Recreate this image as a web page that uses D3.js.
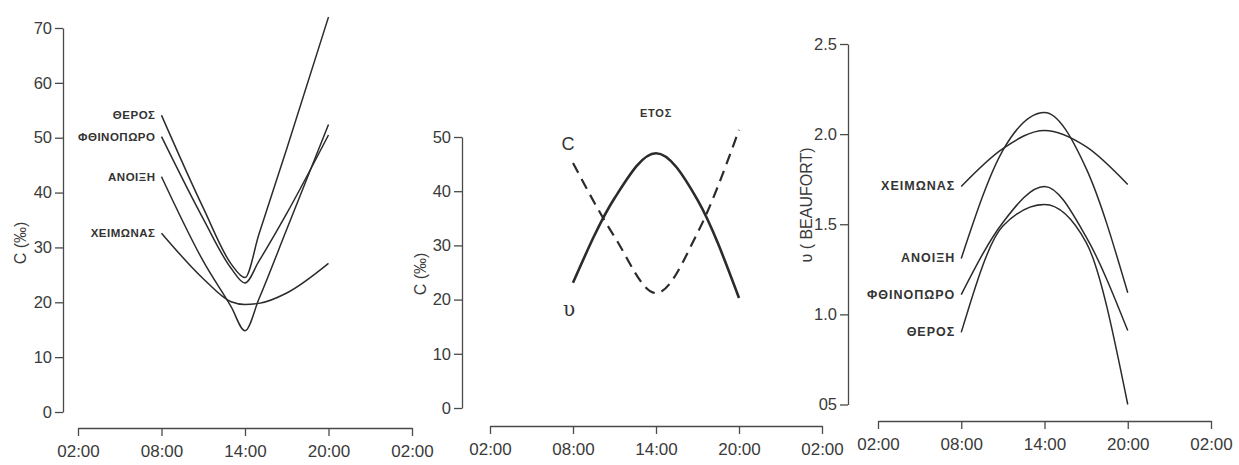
<!DOCTYPE html>
<html>
<head>
<meta charset="utf-8">
<script src="https://cdn.jsdelivr.net/npm/d3@7"></script>
<style>
  html, body { margin: 0; padding: 0; background: #ffffff; }
  svg { display: block; }
  .tick text { font-family: "Liberation Sans", Arial, sans-serif; fill: #3a3a3a; }
</style>
</head>
<body>
<svg id="chart" width="1239" height="465"></svg>
<script>
// ---------- data ----------
const xTickHours = [2, 8, 14, 20, 26];
const xTickLabels = ["02:00", "08:00", "14:00", "20:00", "02:00"];

// left panel: C (‰) per season, read at these hours
const leftHours = [8, 11, 13, 14, 15, 17, 20];
const seasonNames = ["ΘΕΡΟΣ", "ΦΘΙΝΟΠΩΡΟ", "ΑΝΟΙΞΗ", "ΧΕΙΜΩΝΑΣ"];
const cTheros   = [54.1, 37.2, 27.0, 24.5, 32.4, 48.0, 72.0];
const cFthinop  = [50.2, 35.2, 26.2, 23.5, 27.5, 36.2, 50.5];
const cAnoixi   = [42.9, 27.5, 19.2, 14.8, 20.6, 33.3, 52.4];
const cXeimonas = [32.6, 24.3, 20.1, 19.6, 19.8, 21.7, 27.1];
const leftYTicks = [0, 10, 20, 30, 40, 50, 60, 70];

// middle panel: year, read at these hours
const hours = [8, 11, 14, 17, 20];
const yearTitle = "ΕΤΟΣ";
const yearC = [45.2, 31.6, 21.2, 32.3, 51.3];
const yearU = [23.1, 38.7, 47.0, 38.4, 20.3];
const midYTicks = [0, 10, 20, 30, 40, 50];

// right panel: wind υ (Beaufort) per season
const rightNames = ["ΧΕΙΜΩΝΑΣ", "ΑΝΟΙΞΗ", "ΦΘΙΝΟΠΩΡΟ", "ΘΕΡΟΣ"];
const uXeimonas = [1.71, 1.92, 2.02, 1.93, 1.72];
const uAnoixi   = [1.31, 1.91, 2.12, 1.81, 1.12];
const uFthinop  = [1.11, 1.51, 1.71, 1.43, 0.91];
const uTheros   = [0.90, 1.49, 1.61, 1.40, 0.50];
const rightYTicks = [0.5, 1.0, 1.5, 2.0, 2.5];
const rightYTickLabels = ["05", "1.0", "1.5", "2.0", "2.5"];

// ---------- drawing ----------
const svg = d3.select("#chart");
const ink = "#2b2b2b";
const axisInk = "#4a4a4a";
const sans = "Liberation Sans, Arial, sans-serif";

function styleAxis(g, fs) {
  g.select(".domain").attr("stroke", axisInk).attr("stroke-width", 1.3);
  g.selectAll(".tick line").attr("stroke", axisInk).attr("stroke-width", 1.3);
  g.selectAll(".tick text").attr("font-size", fs);
}

function drawXAxis(x, yPos) {
  const g = svg.append("g").attr("transform", `translate(0,${yPos})`)
    .call(d3.axisBottom(x).tickValues(xTickHours)
      .tickFormat((d, i) => xTickLabels[i])
      .tickSize(8).tickSizeOuter(0).tickPadding(9));
  styleAxis(g, 17);
}

function drawYAxis(y, xPos, ticks, fmt) {
  const g = svg.append("g").attr("transform", `translate(${xPos},0)`)
    .call(d3.axisLeft(y).tickValues(ticks).tickFormat(fmt)
      .tickSize(8).tickSizeOuter(0).tickPadding(3));
  styleAxis(g, 16.5);
}

function yLabel(text, x, y) {
  svg.append("text")
    .attr("transform", `translate(${x},${y}) rotate(-90)`)
    .attr("text-anchor", "middle").attr("dominant-baseline", "central")
    .attr("font-family", sans)
    .attr("font-size", 16).attr("fill", "#3a3a3a")
    .text(text);
}

function drawSeries(x, y, hrs, vals, opts = {}) {
  const line = d3.line().x((d, i) => x(hrs[i])).y(d => y(d)).curve(d3.curveMonotoneX);
  svg.append("path").datum(vals)
    .attr("d", line)
    .attr("fill", "none")
    .attr("stroke", ink)
    .attr("stroke-width", opts.width || 1.5)
    .attr("stroke-dasharray", opts.dash || null);
}

function seasonLabel(x, y, hrs, name, val, fs, ls) {
  svg.append("text")
    .attr("x", x(hrs[0]) - 6).attr("y", y(val))
    .attr("text-anchor", "end").attr("dominant-baseline", "central")
    .attr("font-family", sans)
    .attr("font-weight", "bold").attr("font-size", fs)
    .attr("letter-spacing", ls)
    .attr("fill", "#333")
    .text(name);
}

// ----- left panel -----
{
  const x = d3.scaleLinear().domain([2, 26]).range([78, 412]);
  const y = d3.scaleLinear().domain([0, 70]).range([412, 28]);
  drawYAxis(y, 63, leftYTicks, d => d);
  drawXAxis(x, 428);
  yLabel("C (‰)", 20, 243);
  const series = [cTheros, cFthinop, cAnoixi, cXeimonas];
  series.forEach((s, i) => {
    drawSeries(x, y, leftHours, s);
    seasonLabel(x, y, leftHours, seasonNames[i], s[0], 11.5, 0.5);
  });
}

// ----- middle panel -----
{
  const x = d3.scaleLinear().domain([2, 26]).range([490, 822]);
  const y = d3.scaleLinear().domain([0, 50]).range([408, 137]);
  drawYAxis(y, 462, midYTicks, d => d);
  drawXAxis(x, 426);
  yLabel("C (‰)", 420, 274);
  drawSeries(x, y, hours, yearU, { width: 2.6 });
  drawSeries(x, y, hours, yearC, { width: 2.2, dash: "11,7" });
  svg.append("text").attr("x", x(14)).attr("y", 113)
    .attr("text-anchor", "middle").attr("dominant-baseline", "central")
    .attr("font-family", sans)
    .attr("font-weight", "bold").attr("font-size", 11).attr("letter-spacing", 0.8)
    .attr("fill", "#333").text(yearTitle);
  svg.append("text").attr("x", x(hours[0]) - 5).attr("y", y(yearC[0]) - 19)
    .attr("text-anchor", "middle").attr("dominant-baseline", "central")
    .attr("font-family", sans)
    .attr("font-size", 18).attr("fill", "#333").text("C");
  svg.append("text").attr("x", x(hours[0]) - 4).attr("y", y(yearU[0]) + 26)
    .attr("text-anchor", "middle").attr("dominant-baseline", "central")
    .attr("font-family", "DejaVu Serif, serif")
    .attr("font-size", 20).attr("fill", "#333").text("υ");
}

// ----- right panel -----
{
  const x = d3.scaleLinear().domain([2, 26]).range([878, 1211]);
  const y = d3.scaleLinear().domain([0.5, 2.5]).range([404.5, 44]);
  drawYAxis(y, 848, rightYTicks, (d, i) => rightYTickLabels[i]);
  drawXAxis(x, 421);
  yLabel("υ ( BEAUFORT)", 806, 205);
  const series = [uXeimonas, uAnoixi, uFthinop, uTheros];
  series.forEach((s, i) => {
    drawSeries(x, y, hours, s);
    seasonLabel(x, y, hours, rightNames[i], s[0], 12.5, 1.0);
  });
}
</script>
</body>
</html>
